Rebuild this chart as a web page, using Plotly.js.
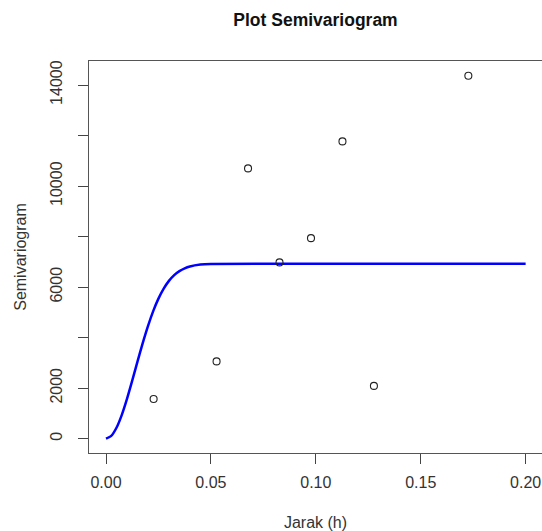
<!DOCTYPE html>
<html>
<head>
<meta charset="utf-8">
<script src="https://cdn.plot.ly/plotly-3.0.1.min.js"></script>
<style>html,body{margin:0;padding:0;background:#fff;overflow:hidden}#plot{width:542px;height:531px}</style>
</head>
<body>
<div id="plot"></div>
<script>
// Empirical semivariogram points (distance h, semivariance)
const lagDistance = [0.0227, 0.0527, 0.0677, 0.0827, 0.0977, 0.1127, 0.1277, 0.1727];
const semivariance = [1570, 3060, 10700, 6980, 7940, 11770, 2090, 14370];

// Fitted model curve
const modelDistance = [0, 0.0025, 0.005, 0.0075, 0.01, 0.0125, 0.015, 0.0175, 0.02, 0.0225, 0.025, 0.0275, 0.03, 0.0325, 0.035, 0.0375, 0.04, 0.045, 0.05, 0.1, 0.15, 0.2];
const modelValue = [0, 111, 432, 935, 1575, 2297, 3049, 3782, 4457, 5051, 5545, 5943, 6248, 6475, 6635, 6745, 6818, 6893, 6919, 6928, 6928, 6928];

// Tick labels
const xTickVals = [0, 0.05, 0.10, 0.15, 0.20];
const xTickText = ["0.00", "0.05", "0.10", "0.15", "0.20"];
const yTickVals = [0, 2000, 4000, 6000, 8000, 10000, 12000, 14000];
const yTickText = ["0", "2000", "", "6000", "", "10000", "", "14000"];

const font = "Liberation Sans, Arial, sans-serif";

const traces = [
  {
    x: modelDistance, y: modelValue, type: "scatter", mode: "lines",
    line: {color: "#0000ff", width: 2.5, shape: "spline", smoothing: 0.6},
    hoverinfo: "skip"
  },
  {
    x: lagDistance, y: semivariance, type: "scatter", mode: "markers",
    marker: {symbol: "circle-open", size: 7, color: "#222", line: {width: 1.1, color: "#222"}}
  }
];

const layout = {
  width: 542, height: 531,
  margin: {l: 89, r: 0, t: 61, b: 78},
  paper_bgcolor: "#fff", plot_bgcolor: "#fff",
  showlegend: false,
  font: {family: font, size: 16, color: "#333"},
  title: {
    text: "<b>Plot Semivariogram</b>",
    font: {family: font, size: 17.5, color: "#111"},
    x: 0.5, xanchor: "center", xref: "paper",
    y: 0.962, yanchor: "middle", yref: "container"
  },
  xaxis: {
    range: [-0.0081, 0.2078],
    tickvals: xTickVals, ticktext: xTickText,
    ticks: "outside", ticklen: 10, tickwidth: 1, tickcolor: "#444",
    showline: true, linecolor: "#555", linewidth: 1.3, mirror: true,
    showgrid: false, zeroline: false,
    tickfont: {family: font, size: 16, color: "#333"},
    ticklabelstandoff: 4,
    title: {text: "Jarak (h)", font: {family: font, size: 16, color: "#333"}, standoff: 35}
  },
  yaxis: {
    range: [-566, 14952],
    tickvals: yTickVals, ticktext: yTickText,
    ticks: "outside", ticklen: 10, tickwidth: 1, tickcolor: "#444",
    tickangle: -90,
    showline: true, linecolor: "#555", linewidth: 1.3, mirror: false,
    showgrid: false, zeroline: false,
    tickfont: {family: font, size: 16, color: "#333"},
    ticklabelstandoff: 9,
    title: {text: "Semivariogram", font: {family: font, size: 16, color: "#333"}, standoff: 17}
  }
};

Plotly.newPlot("plot", traces, layout, {displayModeBar: false, staticPlot: true});
</script>
</body>
</html>
